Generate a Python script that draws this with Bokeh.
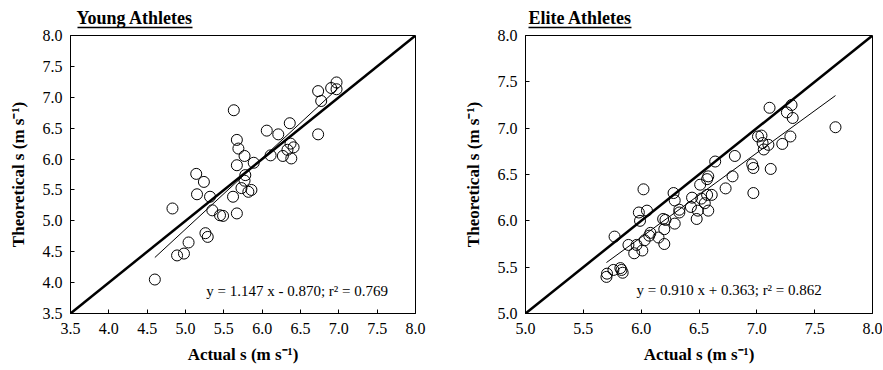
from bokeh.plotting import figure
from bokeh.layouts import row
from bokeh.models import Range1d, FixedTicker, Label, NumeralTickFormatter, LinearAxis
from bokeh.embed import file_html
from bokeh.resources import INLINE

# ---- Young athletes ----
young_actual = [4.60, 4.83, 4.89, 4.98, 5.04, 5.14, 5.15, 5.24, 5.26, 5.29, 5.32, 5.35,
                5.45, 5.49, 5.63, 5.62, 5.67, 5.69, 5.67, 5.67, 5.73, 5.77, 5.78, 5.77,
                5.82, 5.86, 5.89, 6.06, 6.11, 6.21, 6.27, 6.33, 6.36, 6.37, 6.38, 6.41,
                6.73, 6.73, 6.77, 6.90, 6.97, 6.97]
young_theor = [4.05, 5.20, 4.44, 4.47, 4.65, 5.76, 5.43, 5.63, 4.80, 4.74, 5.39, 5.17,
               5.09, 5.08, 6.79, 5.39, 6.31, 6.17, 5.90, 5.12, 5.53, 6.05, 5.74, 5.65,
               5.47, 5.50, 5.94, 6.46, 6.06, 6.40, 6.05, 6.15, 6.58, 6.25, 6.01, 6.19,
               7.10, 6.40, 6.94, 7.15, 7.24, 7.13]
young_fit = (1.147, -0.870)
young_fit_x = [4.60, 7.00]
young_range = [3.5, 8.0]
young_ticks = [3.5, 4.0, 4.5, 5.0, 5.5, 6.0, 6.5, 7.0, 7.5, 8.0]
young_title = "Young Athletes"
young_eq = "y = 1.147 x - 0.870; r\u00b2 = 0.769"

# ---- Elite athletes ----
elite_actual = [5.70, 5.705, 5.76, 5.77, 5.82, 5.83, 5.84, 5.89, 5.94, 5.96, 5.98, 5.99,
                6.01, 6.02, 6.03, 6.05, 6.07, 6.08, 6.15, 6.19, 6.20, 6.20, 6.21, 6.28,
                6.29, 6.29, 6.33, 6.33, 6.43, 6.44, 6.48, 6.49, 6.51, 6.52, 6.55, 6.57,
                6.57, 6.58, 6.58, 6.61, 6.64, 6.73, 6.79, 6.81, 6.96, 6.97, 6.97, 7.01,
                7.04, 7.05, 7.06, 7.10, 7.11, 7.12, 7.22, 7.26, 7.29, 7.30, 7.31, 7.68]
elite_theor = [5.395, 5.43, 5.47, 5.83, 5.49, 5.47, 5.44, 5.74, 5.65, 5.74, 6.09, 6.00,
               5.68, 6.34, 5.79, 6.11, 5.84, 5.87, 5.82, 6.02, 5.75, 5.91, 6.01, 6.30,
               6.22, 5.97, 6.12, 6.09, 6.15, 6.25, 6.02, 6.11, 6.39, 6.24, 6.19, 6.28,
               6.45, 6.48, 6.11, 6.28, 6.64, 6.35, 6.48, 6.70, 6.61, 6.57, 6.30, 6.91,
               6.92, 6.84, 6.77, 6.82, 7.22, 6.56, 6.83, 7.17, 6.91, 7.25, 7.11, 7.01]
elite_fit = (0.910, 0.363)
elite_fit_x = [5.70, 7.68]
elite_range = [5.0, 8.0]
elite_ticks = [5.0, 5.5, 6.0, 6.5, 7.0, 7.5, 8.0]
elite_title = "Elite Athletes"
elite_eq = "y = 0.910 x + 0.363; r\u00b2 = 0.862"

FONT = "Liberation Serif"


def blank_axis(**kw):
    ax = LinearAxis(ticker=FixedTicker(ticks=[]), major_tick_in=0, minor_tick_in=0,
                    minor_tick_out=0, major_tick_line_color=None,
                    minor_tick_line_color=None, major_label_text_font_size="0px", **kw)
    return ax


def make_panel(actual, theor, fit, fit_x, rng, ticks, title, eq, eq_xy,
               width, height, borders, title_off, ul_bounds):
    p = figure(width=width, height=height, output_backend="svg", toolbar_location=None,
               x_range=Range1d(*rng), y_range=Range1d(*rng),
               min_border_left=borders[0], min_border_right=borders[1],
               min_border_top=borders[2], min_border_bottom=borders[3])
    p.title.text = title
    p.title.text_font = FONT
    p.title.text_font_size = "18px"
    p.title.text_font_style = "bold"
    p.title.text_color = "black"
    p.title.align = "left"
    p.title.offset = title_off
    p.title.standoff = -1
    p.grid.visible = False
    p.outline_line_color = "black"
    p.outline_line_width = 1
    p.outline_line_alpha = 1
    for ax in (p.xaxis[0], p.yaxis[0]):
        ax.ticker = FixedTicker(ticks=ticks)
        ax.formatter = NumeralTickFormatter(format="0.0")
        ax.major_tick_in = 4
        ax.major_tick_out = 0
        ax.minor_tick_line_color = None
        ax.axis_line_color = "black"
        ax.major_tick_line_color = "black"
        ax.major_label_text_font = FONT
        ax.major_label_text_font_size = "16px"
        ax.major_label_text_color = "black"
        ax.axis_label_text_font = FONT
        ax.axis_label_text_font_size = "17px"
        ax.axis_label_text_font_style = "bold"
        ax.axis_label_text_color = "black"
    p.xaxis.axis_label = "Actual s (m s\u207b\u00b9)"
    p.yaxis.axis_label = "Theoretical s (m s\u207b\u00b9)"
    p.xaxis.major_label_standoff = 9
    p.xaxis.axis_label_standoff = 8
    p.yaxis.major_label_standoff = 8
    p.yaxis.axis_label_standoff = 12

    # title underline: spacer axis + bounded axis line above the frame
    p.add_layout(blank_axis(axis_line_color=None, major_tick_out=0, axis_label=" ",
                            axis_label_text_font_size="4px", axis_label_standoff=0),
                 "above")
    p.add_layout(blank_axis(axis_line_color="black", axis_line_width=1.3,
                            major_tick_out=0, bounds=ul_bounds), "above")

    # identity line
    p.line(rng, rng, line_color="black", line_width=2.5)
    # regression line
    fy = [fit[0] * x + fit[1] for x in fit_x]
    p.line(fit_x, fy, line_color="black", line_width=1)
    p.scatter(actual, theor, marker="circle", size=11, fill_color=None,
              line_color="black", line_width=1)
    p.add_layout(Label(x=eq_xy[0], y=eq_xy[1], text=eq, text_font=FONT,
                       text_font_size="15px", text_baseline="middle", text_color="black"))
    return p


p1 = make_panel(young_actual, young_theor, young_fit, young_fit_x, young_range, young_ticks,
                young_title, young_eq, (5.27, 3.87), 440, 368, (70, 25, 35, 53), 6,
                (3.59, 5.09))
p2 = make_panel(elite_actual, elite_theor, elite_fit, elite_fit_x, elite_range, elite_ticks,
                elite_title, elite_eq, (5.96, 5.25), 442, 368, (85, 10, 35, 55), 3,
                (5.03, 5.92))

layout = row(p1, p2)
open("out.html", "w").write(file_html(layout, INLINE))
